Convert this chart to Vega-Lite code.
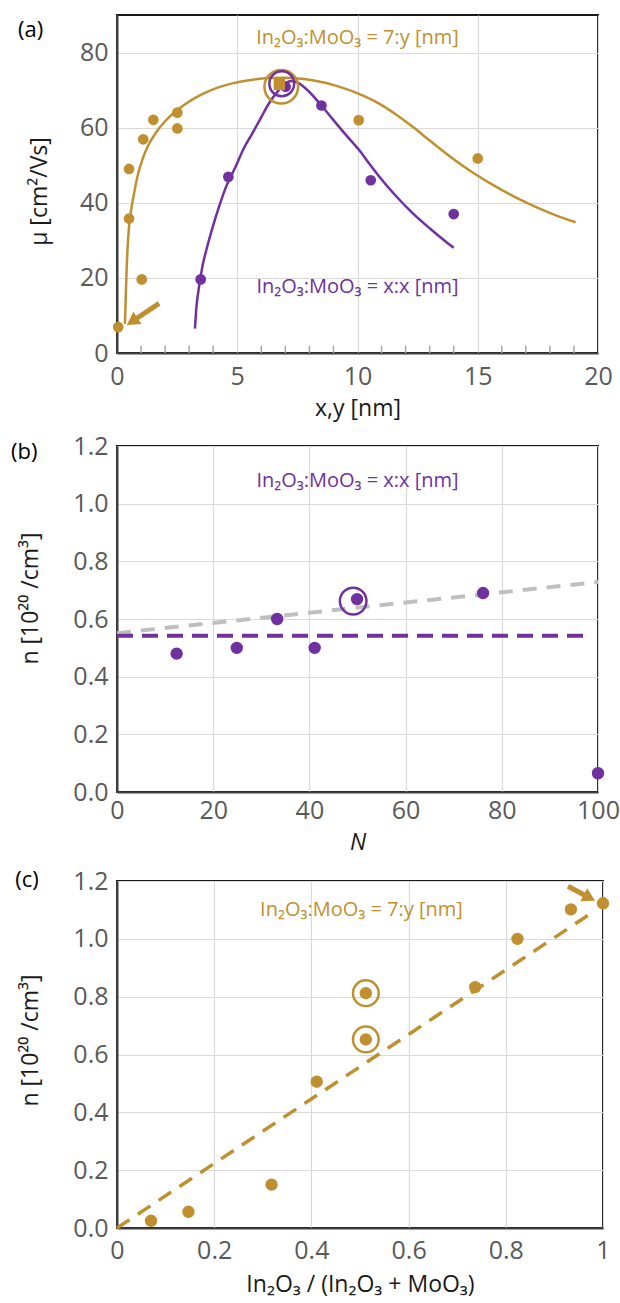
{
  "$schema": "https://vega.github.io/schema/vega-lite/v6.json",
  "background": "white",
  "padding": {"left": 9, "top": 14, "right": 5, "bottom": 5},
  "spacing": 12,
  "config": {
    "font": "Open Sans",
    "view": {"stroke": "#1a1a1a", "strokeWidth": 2},
    "axis": {
      "labelFont": "Open Sans", "labelFontSize": 25, "labelColor": "#595959",
      "titleFont": "Open Sans", "titleFontSize": 23, "titleFontWeight": "normal", "titleColor": "#1a1a1a",
      "gridColor": "#D9D9D9", "gridWidth": 1.2, "domainColor": "#404040", "domainWidth": 2,
      "ticks": false, "labelFlush": false, "labelOverlap": false, "labelBound": false
    }
  },
  "datasets": {
    "a_curve": [
      {"s": "gold", "x": 0.33, "y": 7.8}, {"s": "gold", "x": 0.36, "y": 14}, {"s": "gold", "x": 0.39, "y": 20.3},
      {"s": "gold", "x": 0.44, "y": 28}, {"s": "gold", "x": 0.5, "y": 33.6}, {"s": "gold", "x": 0.6, "y": 38.5},
      {"s": "gold", "x": 0.71, "y": 42.5}, {"s": "gold", "x": 0.85, "y": 47}, {"s": "gold", "x": 1.05, "y": 51.4},
      {"s": "gold", "x": 1.3, "y": 55.3}, {"s": "gold", "x": 1.6, "y": 58.5}, {"s": "gold", "x": 2.0, "y": 61.7},
      {"s": "gold", "x": 2.3, "y": 63.6}, {"s": "gold", "x": 2.8, "y": 66.1}, {"s": "gold", "x": 3.27, "y": 68.0},
      {"s": "gold", "x": 3.7, "y": 69.4}, {"s": "gold", "x": 4.24, "y": 70.8}, {"s": "gold", "x": 4.8, "y": 71.8},
      {"s": "gold", "x": 5.35, "y": 72.5}, {"s": "gold", "x": 6.32, "y": 73.2}, {"s": "gold", "x": 7.0, "y": 73.3},
      {"s": "gold", "x": 7.7, "y": 73.0}, {"s": "gold", "x": 8.4, "y": 72.3}, {"s": "gold", "x": 9.09, "y": 71.2},
      {"s": "gold", "x": 10.06, "y": 69.0}, {"s": "gold", "x": 10.9, "y": 66.4}, {"s": "gold", "x": 11.6, "y": 63.5},
      {"s": "gold", "x": 12.28, "y": 60.3}, {"s": "gold", "x": 13.0, "y": 56.6}, {"s": "gold", "x": 13.67, "y": 53.2},
      {"s": "gold", "x": 14.3, "y": 50.2}, {"s": "gold", "x": 15.0, "y": 47.2}, {"s": "gold", "x": 15.7, "y": 44.5},
      {"s": "gold", "x": 16.44, "y": 41.9}, {"s": "gold", "x": 17.0, "y": 40.1}, {"s": "gold", "x": 17.55, "y": 38.5},
      {"s": "gold", "x": 18.3, "y": 36.5}, {"s": "gold", "x": 19.07, "y": 34.8},
      {"s": "purple", "x": 3.24, "y": 6.5}, {"s": "purple", "x": 3.3, "y": 12}, {"s": "purple", "x": 3.41, "y": 17.6},
      {"s": "purple", "x": 3.55, "y": 23}, {"s": "purple", "x": 3.75, "y": 28.3}, {"s": "purple", "x": 4.0, "y": 34},
      {"s": "purple", "x": 4.24, "y": 38.9}, {"s": "purple", "x": 4.55, "y": 44.5}, {"s": "purple", "x": 4.93, "y": 49.6},
      {"s": "purple", "x": 5.25, "y": 54.2}, {"s": "purple", "x": 5.63, "y": 58.5}, {"s": "purple", "x": 6.0, "y": 62.8},
      {"s": "purple", "x": 6.32, "y": 66.5}, {"s": "purple", "x": 6.7, "y": 69.8}, {"s": "purple", "x": 7.01, "y": 71.8},
      {"s": "purple", "x": 7.25, "y": 72.4}, {"s": "purple", "x": 7.57, "y": 71.8}, {"s": "purple", "x": 8.0, "y": 69.5},
      {"s": "purple", "x": 8.5, "y": 65.9}, {"s": "purple", "x": 9.0, "y": 62.0}, {"s": "purple", "x": 9.5, "y": 58.2},
      {"s": "purple", "x": 10.06, "y": 54.1}, {"s": "purple", "x": 10.5, "y": 50.3}, {"s": "purple", "x": 10.9, "y": 47.0},
      {"s": "purple", "x": 11.6, "y": 41.8}, {"s": "purple", "x": 12.28, "y": 37.3}, {"s": "purple", "x": 13.0, "y": 33.2},
      {"s": "purple", "x": 13.6, "y": 30.0}, {"s": "purple", "x": 14.0, "y": 28.0}
    ],
    "a_pts": [
      {"s": "gold", "x": 0.05, "y": 6.9}, {"s": "gold", "x": 0.5, "y": 35.8}, {"s": "gold", "x": 0.5, "y": 49.0},
      {"s": "gold", "x": 1.03, "y": 19.6}, {"s": "gold", "x": 1.09, "y": 56.9}, {"s": "gold", "x": 1.51, "y": 62.1},
      {"s": "gold", "x": 2.51, "y": 64.0}, {"s": "gold", "x": 2.51, "y": 59.8}, {"s": "gold", "x": 10.05, "y": 62.0},
      {"s": "gold", "x": 15.0, "y": 51.8},
      {"s": "purple", "x": 3.48, "y": 19.6}, {"s": "purple", "x": 4.63, "y": 46.9}, {"s": "purple", "x": 7.01, "y": 70.9},
      {"s": "purple", "x": 8.5, "y": 65.9}, {"s": "purple", "x": 10.55, "y": 46.0}, {"s": "purple", "x": 14.0, "y": 37.0}
    ],
    "a_minor": [
      {"x": 1}, {"x": 2}, {"x": 3}, {"x": 4}, {"x": 6}, {"x": 7}, {"x": 8}, {"x": 9},
      {"x": 11}, {"x": 12}, {"x": 13}, {"x": 14}, {"x": 16}, {"x": 17}, {"x": 18}, {"x": 19}
    ],
    "a_sq": [{"x": 6.75, "y": 71.5}],
    "a_rings": [{"s": "gold", "x": 6.83, "y": 70.9}, {"s": "purple", "x": 6.85, "y": 71.7}],
    "a_arrow": [{"x": 1.75, "y": 13.2, "x2": 0.63, "y2": 8.4}],
    "a_head": [{"x": 0.63, "y": 8.4}],
    "b_pts": [
      {"x": 12.4, "y": 0.48}, {"x": 24.9, "y": 0.5}, {"x": 33.3, "y": 0.6}, {"x": 41.1, "y": 0.5},
      {"x": 49.9, "y": 0.669}, {"x": 76.1, "y": 0.69}, {"x": 100, "y": 0.065}
    ],
    "b_ring": [{"x": 49.1, "y": 0.662}],
    "b_gray": [{"x": 0, "y": 0.551}, {"x": 100, "y": 0.728}],
    "b_purple": [{"x": 0, "y": 0.542}, {"x": 97.5, "y": 0.542}],
    "c_pts": [
      {"x": 0.07, "y": 0.025}, {"x": 0.147, "y": 0.056}, {"x": 0.318, "y": 0.15}, {"x": 0.411, "y": 0.506},
      {"x": 0.512, "y": 0.652}, {"x": 0.512, "y": 0.812}, {"x": 0.737, "y": 0.833}, {"x": 0.824, "y": 1.0},
      {"x": 0.934, "y": 1.102}, {"x": 1.0, "y": 1.123}
    ],
    "c_rings": [{"x": 0.512, "y": 0.652}, {"x": 0.512, "y": 0.812}],
    "c_line": [{"x": 0, "y": 0}, {"x": 0.985, "y": 1.099}],
    "c_arrow": [{"x": 0.928, "y": 1.182, "x2": 0.972, "y2": 1.142}],
    "c_head": [{"x": 0.972, "y": 1.142}]
  },
  "vconcat": [
    {
      "width": 481,
      "height": 338,
      "layer": [
        {
          "data": {"name": "a_curve"},
          "mark": {"type": "line", "strokeWidth": 2.5, "interpolate": "monotone"},
          "encoding": {
            "x": {"field": "x", "type": "quantitative", "scale": {"domain": [0, 20], "nice": false},
              "axis": {"values": [0, 5, 10, 15, 20], "labelOverlap": false, "grid": true, "labelPadding": 11, "titlePadding": 8},
              "title": "x,y [nm]"},
            "y": {"field": "y", "type": "quantitative", "scale": {"domain": [0, 90], "nice": false},
              "axis": {"values": [0, 20, 40, 60, 80], "labelOverlap": false, "labelPadding": 9, "titlePadding": 28, "titleY": 176},
              "title": "μ [cm²/Vs]"},
            "color": {"field": "s", "type": "nominal", "scale": {"domain": ["gold", "purple"], "range": ["#C09030", "#7030A0"]}, "legend": null}
          }
        },
        {
          "data": {"name": "a_minor"},
          "mark": {"type": "rule", "strokeWidth": 1.5, "color": "#A6A6A6"},
          "encoding": {
            "x": {"field": "x", "type": "quantitative"},
            "y": {"datum": 0},
            "y2": {"datum": 1.9}
          }
        },
        {
          "data": {"name": "a_pts"},
          "mark": {"type": "point", "filled": true, "opacity": 1, "size": 115},
          "encoding": {
            "x": {"field": "x", "type": "quantitative"},
            "y": {"field": "y", "type": "quantitative"},
            "color": {"field": "s", "type": "nominal", "legend": null}
          }
        },
        {
          "data": {"name": "a_sq"},
          "mark": {"type": "point", "shape": "square", "filled": true, "opacity": 1, "size": 130, "color": "#C09030"},
          "encoding": {
            "x": {"field": "x", "type": "quantitative"},
            "y": {"field": "y", "type": "quantitative"}
          }
        },
        {
          "data": {"name": "a_rings"},
          "mark": {"type": "point", "filled": false, "opacity": 1, "strokeWidth": 2.5},
          "encoding": {
            "x": {"field": "x", "type": "quantitative"},
            "y": {"field": "y", "type": "quantitative"},
            "color": {"field": "s", "type": "nominal", "legend": null},
            "size": {"field": "s", "type": "nominal", "scale": {"domain": ["gold", "purple"], "range": [1134, 615]}, "legend": null}
          }
        },
        {
          "data": {"name": "a_arrow"},
          "mark": {"type": "rule", "strokeWidth": 5, "color": "#C09030"},
          "encoding": {
            "x": {"field": "x", "type": "quantitative"},
            "y": {"field": "y", "type": "quantitative"},
            "x2": {"field": "x2"},
            "y2": {"field": "y2"}
          }
        },
        {
          "data": {"name": "a_head"},
          "mark": {"type": "point", "shape": "triangle-up", "filled": true, "opacity": 1, "size": 220, "angle": 236, "color": "#C09030"},
          "encoding": {
            "x": {"field": "x", "type": "quantitative"},
            "y": {"field": "y", "type": "quantitative"}
          }
        },
        {
          "data": {"values": [{}]},
          "mark": {"type": "text", "text": "In₂O₃:MoO₃ = 7:y [nm]", "color": "#C09030", "fontSize": 20, "font": "Open Sans"},
          "encoding": {"x": {"datum": 10}, "y": {"datum": 84}}
        },
        {
          "data": {"values": [{}]},
          "mark": {"type": "text", "text": "In₂O₃:MoO₃ = x:x [nm]", "color": "#7030A0", "fontSize": 20, "font": "Open Sans"},
          "encoding": {"x": {"datum": 10}, "y": {"datum": 17.6}}
        },
        {
          "data": {"values": [{}]},
          "mark": {"type": "text", "text": "(a)", "color": "#000000", "fontSize": 22, "font": "Open Sans", "align": "center", "baseline": "middle"},
          "encoding": {"x": {"datum": -3.59}, "y": {"datum": 86}}
        }
      ]
    },
    {
      "width": 481,
      "height": 346,
      "layer": [
        {
          "data": {"name": "b_gray"},
          "mark": {"type": "line", "strokeWidth": 4, "strokeDash": [14, 10], "color": "#BFBFBF"},
          "encoding": {
            "x": {"field": "x", "type": "quantitative", "scale": {"domain": [0, 100], "nice": false},
              "axis": {"values": [0, 20, 40, 60, 80, 100], "labelOverlap": false, "labelPadding": 6, "titlePadding": 8, "titleFontStyle": "italic"},
              "title": "N"},
            "y": {"field": "y", "type": "quantitative", "scale": {"domain": [0, 1.2], "nice": false},
              "axis": {"values": [0, 0.2, 0.4, 0.6, 0.8, 1.0, 1.2], "format": ".1f", "labelOverlap": false, "labelPadding": 9, "titlePadding": 30, "titleY": 152},
              "title": "n [10²⁰ /cm³]"}
          }
        },
        {
          "data": {"name": "b_purple"},
          "mark": {"type": "line", "strokeWidth": 4, "strokeDash": [16, 9], "color": "#7030A0"},
          "encoding": {
            "x": {"field": "x", "type": "quantitative"},
            "y": {"field": "y", "type": "quantitative"}
          }
        },
        {
          "data": {"name": "b_pts"},
          "mark": {"type": "point", "filled": true, "opacity": 1, "size": 154, "color": "#7030A0"},
          "encoding": {
            "x": {"field": "x", "type": "quantitative"},
            "y": {"field": "y", "type": "quantitative"}
          }
        },
        {
          "data": {"name": "b_ring"},
          "mark": {"type": "point", "filled": false, "opacity": 1, "size": 707, "strokeWidth": 2.5, "color": "#7030A0"},
          "encoding": {
            "x": {"field": "x", "type": "quantitative"},
            "y": {"field": "y", "type": "quantitative"}
          }
        },
        {
          "data": {"values": [{}]},
          "mark": {"type": "text", "text": "In₂O₃:MoO₃ = x:x [nm]", "color": "#7030A0", "fontSize": 20, "font": "Open Sans"},
          "encoding": {"x": {"datum": 50}, "y": {"datum": 1.08}}
        },
        {
          "data": {"values": [{}]},
          "mark": {"type": "text", "text": "(b)", "color": "#000000", "fontSize": 22, "font": "Open Sans", "align": "center", "baseline": "middle"},
          "encoding": {"x": {"datum": -19.3}, "y": {"datum": 1.179}}
        }
      ]
    },
    {
      "width": 486,
      "height": 347,
      "layer": [
        {
          "data": {"name": "c_line"},
          "mark": {"type": "line", "strokeWidth": 3.5, "strokeDash": [15, 10], "color": "#C09030"},
          "encoding": {
            "x": {"field": "x", "type": "quantitative", "scale": {"domain": [0, 1], "nice": false},
              "axis": {"values": [0, 0.2, 0.4, 0.6, 0.8, 1], "labelOverlap": false, "labelExpr": "datum.value === 0 ? '0' : datum.value === 1 ? '1' : format(datum.value, '.1f')", "labelPadding": 10, "titlePadding": 10},
              "title": "In₂O₃ / (In₂O₃ + MoO₃)"},
            "y": {"field": "y", "type": "quantitative", "scale": {"domain": [0, 1.2], "nice": false},
              "axis": {"values": [0, 0.2, 0.4, 0.6, 0.8, 1.0, 1.2], "format": ".1f", "labelOverlap": false, "labelPadding": 9, "titlePadding": 30, "titleY": 159},
              "title": "n [10²⁰ /cm³]"}
          }
        },
        {
          "data": {"name": "c_pts"},
          "mark": {"type": "point", "filled": true, "opacity": 1, "size": 154, "color": "#C09030"},
          "encoding": {
            "x": {"field": "x", "type": "quantitative"},
            "y": {"field": "y", "type": "quantitative"}
          }
        },
        {
          "data": {"name": "c_rings"},
          "mark": {"type": "point", "filled": false, "opacity": 1, "size": 660, "strokeWidth": 2.5, "color": "#C09030"},
          "encoding": {
            "x": {"field": "x", "type": "quantitative"},
            "y": {"field": "y", "type": "quantitative"}
          }
        },
        {
          "data": {"name": "c_arrow"},
          "mark": {"type": "rule", "strokeWidth": 5, "color": "#C09030"},
          "encoding": {
            "x": {"field": "x", "type": "quantitative"},
            "y": {"field": "y", "type": "quantitative"},
            "x2": {"field": "x2"},
            "y2": {"field": "y2"}
          }
        },
        {
          "data": {"name": "c_head"},
          "mark": {"type": "point", "shape": "triangle-up", "filled": true, "opacity": 1, "size": 220, "angle": 118, "color": "#C09030"},
          "encoding": {
            "x": {"field": "x", "type": "quantitative"},
            "y": {"field": "y", "type": "quantitative"}
          }
        },
        {
          "data": {"values": [{}]},
          "mark": {"type": "text", "text": "In₂O₃:MoO₃ = 7:y [nm]", "color": "#C09030", "fontSize": 20, "font": "Open Sans"},
          "encoding": {"x": {"datum": 0.503}, "y": {"datum": 1.099}}
        },
        {
          "data": {"values": [{}]},
          "mark": {"type": "text", "text": "(c)", "color": "#000000", "fontSize": 22, "font": "Open Sans", "align": "center", "baseline": "middle"},
          "encoding": {"x": {"datum": -0.185}, "y": {"datum": 1.204}}
        }
      ]
    }
  ]
}
